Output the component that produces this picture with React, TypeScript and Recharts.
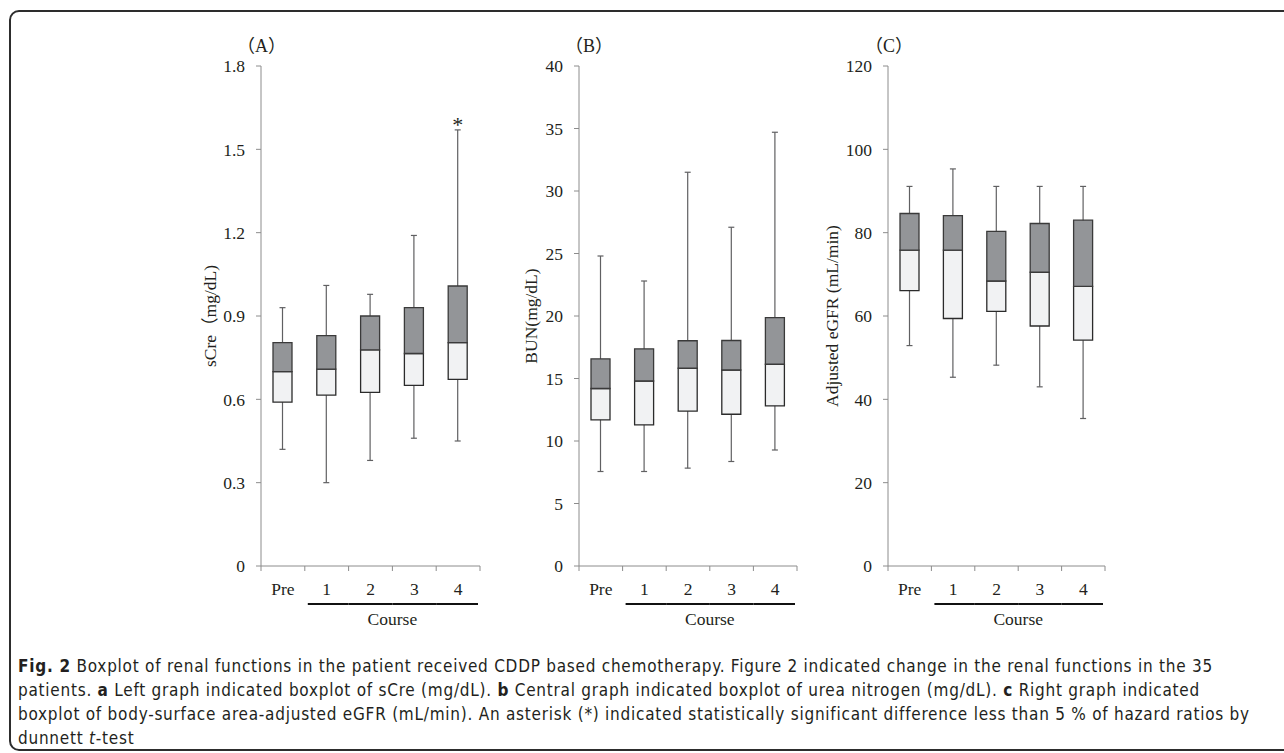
import React from "react";
import { ComposedChart, Bar, XAxis, YAxis } from "recharts";

const courses = ["Pre", "1", "2", "3", "4"];

// (A) sCre (mg/dL)
const sCreMin = [0.42, 0.3, 0.38, 0.46, 0.45];
const sCreQ1 = [0.59, 0.615, 0.625, 0.65, 0.672];
const sCreMed = [0.7, 0.709, 0.778, 0.765, 0.804];
const sCreQ3 = [0.804, 0.829, 0.9, 0.93, 1.008];
const sCreMax = [0.93, 1.01, 0.978, 1.19, 1.57];
const sCreSig = [false, false, false, false, true];
const sCreTicks = [0, 0.3, 0.6, 0.9, 1.2, 1.5, 1.8];

// (B) BUN (mg/dL)
const bunMin = [7.56, 7.56, 7.83, 8.36, 9.28];
const bunQ1 = [11.69, 11.29, 12.39, 12.14, 12.81];
const bunMed = [14.2, 14.8, 15.82, 15.68, 16.14];
const bunQ3 = [16.57, 17.37, 18.02, 18.04, 19.87];
const bunMax = [24.8, 22.8, 31.5, 27.1, 34.7];
const bunTicks = [0, 5, 10, 15, 20, 25, 30, 35, 40];

// (C) adjusted eGFR (mL/min)
const egfrMin = [52.9, 45.3, 48.2, 43.0, 35.4];
const egfrQ1 = [66.1, 59.4, 61.1, 57.6, 54.2];
const egfrMed = [75.8, 75.8, 68.4, 70.5, 67.1];
const egfrQ3 = [84.6, 84.1, 80.3, 82.2, 83.0];
const egfrMax = [91.1, 95.3, 91.1, 91.1, 91.1];
const egfrTicks = [0, 20, 40, 60, 80, 100, 120];

const SERIF = "'Liberation Serif', 'DejaVu Serif', serif";
const CJK = "'Liberation Serif', 'Noto Sans CJK JP', serif";
const TEXT = "#231f20";
const AXIS = "#8c8c8c";

const makeRows = (mn: number[], q1: number[], md: number[], q3: number[], mx: number[], sig?: boolean[]) =>
  courses.map((c, i) => ({
    course: c,
    whisker: [mn[i], mx[i]],
    lower: [q1[i], md[i]],
    upper: [md[i], q3[i]],
    sig: sig ? sig[i] : false,
  }));

const WhiskerShape = (props: any) => {
  const { x, y, width, height, payload } = props;
  const cx = x + width / 2;
  return (
    <g>
      <line x1={cx} x2={cx} y1={y} y2={y + height} stroke="#606062" strokeWidth={1.2} />
      <line x1={cx - 3} x2={cx + 3} y1={y} y2={y} stroke="#606062" strokeWidth={1.2} />
      <line x1={cx - 3} x2={cx + 3} y1={y + height} y2={y + height} stroke="#606062" strokeWidth={1.2} />
      {payload.sig && (
        <text x={cx} y={y + 2} textAnchor="middle" fontSize={22} fontFamily={SERIF} fill={TEXT}>
          *
        </text>
      )}
    </g>
  );
};

const CourseTick = (props: any) => {
  const { x, y, payload, index, visibleTicksCount, width } = props;
  const half = payload.offset || width / visibleTicksCount / 2;
  const last = index === visibleTicksCount - 1;
  return (
    <g>
      <line x1={x - half} x2={x - half} y1={y} y2={y + 5} stroke={AXIS} />
      {last && <line x1={x + half} x2={x + half} y1={y} y2={y + 5} stroke={AXIS} />}
      <text x={x} y={y + 29} textAnchor="middle" fontSize={17.5} fontFamily={SERIF} fill={TEXT}>
        {payload.value}
      </text>
      {index > 0 && (
        <line x1={index === 1 ? x - half + 3 : x - half} x2={last ? x + half - 2 : x + half}
          y1={y + 38} y2={y + 38} stroke="#111" strokeWidth={2} />
      )}
      {index === 2 && (
        <text x={x + half} y={y + 59} textAnchor="middle" fontSize={17.5} fontFamily={SERIF} fill={TEXT}>
          Course
        </text>
      )}
    </g>
  );
};

const Panel = ({ left, width, rows, ticks, title, labelOffset }: any) => (
  <div style={{ position: "absolute", left, top: 0 }}>
    <ComposedChart width={width} height={636} data={rows} barGap={-19}
      margin={{ top: 66, right: 10, bottom: 0, left: 10 }}>
      <XAxis dataKey="course" height={70} interval={0} tickLine={false} tickSize={0} tickMargin={0}
        axisLine={{ stroke: AXIS }} tick={<CourseTick />} />
      <YAxis type="number" domain={[ticks[0], ticks[ticks.length - 1]]} ticks={ticks} interval={0}
        width={81} tickSize={5} tickMargin={11} axisLine={{ stroke: AXIS }} tickLine={{ stroke: AXIS }}
        tick={{ fontSize: 17.5, fontFamily: SERIF, fill: TEXT }}
        label={{ value: title, angle: -90, position: "insideLeft", offset: labelOffset,
          style: { textAnchor: "middle", fontSize: 17.5, fontFamily: CJK, fill: TEXT } }} />
      <Bar dataKey="whisker" barSize={19} shape={<WhiskerShape />} isAnimationActive={false} />
      <Bar dataKey="lower" barSize={19} fill="#f1f2f3" stroke="#2b2b2b" strokeWidth={1.3} isAnimationActive={false} />
      <Bar dataKey="upper" barSize={19} fill="#939598" stroke="#3a3a3a" strokeWidth={1.3} isAnimationActive={false} />
    </ComposedChart>
  </div>
);

const letter = (text: string, left: number) => (
  <div style={{ position: "absolute", left, top: 31, fontSize: 18, fontFamily: CJK, color: TEXT }}>{text}</div>
);

const capStyle: React.CSSProperties = {
  position: "absolute", left: 18, top: 654, fontSize: 17, lineHeight: "24px", color: TEXT, letterSpacing: 0.75,
  fontFamily: "'DejaVu Sans Condensed', 'Liberation Sans Narrow', 'DejaVu Sans', sans-serif",
  fontStretch: "condensed", whiteSpace: "nowrap",
};

export default function App() {
  return (
    <div style={{ position: "absolute", left: 0, top: 0, width: 1284, height: 753, background: "#fff", overflow: "hidden" }}>
      <div style={{ position: "absolute", left: 9, top: 10, width: 1300, height: 737, border: "2px solid #2d2d2d", borderRadius: 10 }} />
      {letter("（A）", 237)}
      {letter("（B）", 565)}
      {letter("（C）", 865)}
      <Panel left={170} width={320} ticks={sCreTicks} title="sCre（mg/dL)" labelOffset={30}
        rows={makeRows(sCreMin, sCreQ1, sCreMed, sCreQ3, sCreMax, sCreSig)} />
      <Panel left={488} width={319} ticks={bunTicks} title="BUN(mg/dL)" labelOffset={33}
        rows={makeRows(bunMin, bunQ1, bunMed, bunQ3, bunMax)} />
      <Panel left={797} width={318} ticks={egfrTicks} title="Adjusted eGFR (mL/min)" labelOffset={25}
        rows={makeRows(egfrMin, egfrQ1, egfrMed, egfrQ3, egfrMax)} />
      <div style={capStyle}>
        <b>Fig. 2</b> Boxplot of renal functions in the patient received CDDP based chemotherapy. Figure 2 indicated change in the renal functions in the 35<br />
        patients. <b>a</b> Left graph indicated boxplot of sCre (mg/dL). <b>b</b> Central graph indicated boxplot of urea nitrogen (mg/dL). <b>c</b> Right graph indicated<br />
        boxplot of body-surface area-adjusted eGFR (mL/min). An asterisk (*) indicated statistically significant difference less than 5 % of hazard ratios by<br />
        dunnett <i>t</i>-test
      </div>
    </div>
  );
}
